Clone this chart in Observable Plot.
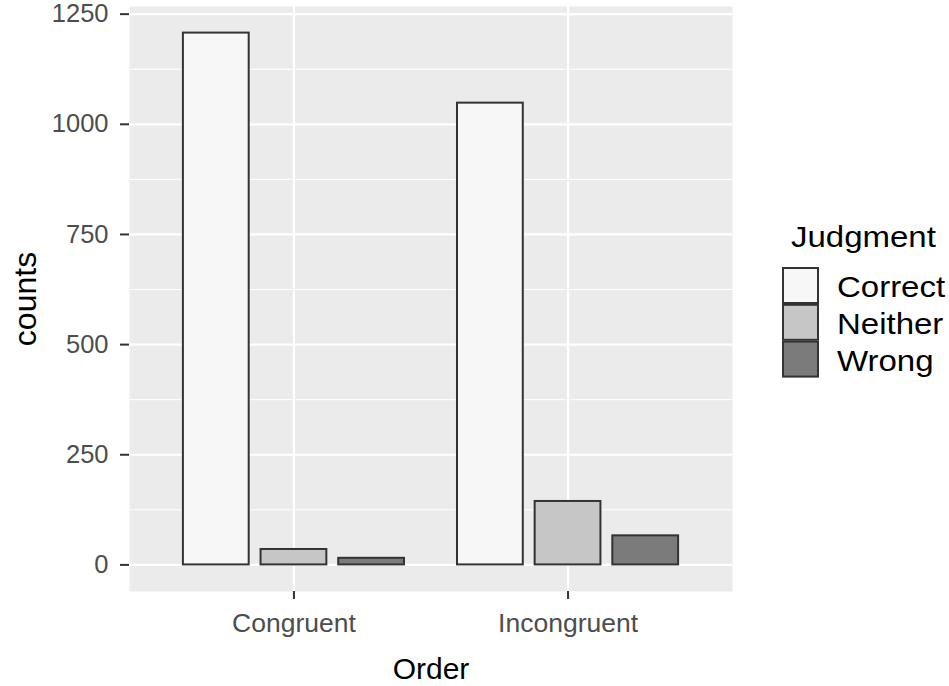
<!DOCTYPE html>
<html><head><meta charset="utf-8">
<script src="https://cdn.jsdelivr.net/npm/d3@7"></script>
<script src="https://cdn.jsdelivr.net/npm/@observablehq/plot@0.6"></script>
<style>
body{margin:0;background:#fff;}
#chart{position:relative;width:949px;height:686px;font-family:"Liberation Sans",Arial,sans-serif;}
#chart svg{position:absolute;left:0;top:0;}
</style>
</head><body><div id="chart"></div>
<script>
const orders = ["Congruent", "Incongruent"];
const judgments = ["Correct", "Neither", "Wrong"];
const congruentCounts = [1207, 35, 15];
const incongruentCounts = [1048, 144, 66];
const fillColors = ["#f7f7f7", "#c6c6c6", "#7b7b7b"];
const yTicks = [0, 250, 500, 750, 1000, 1250];
const yMinorTicks = [125, 375, 625, 875, 1125];

const data = [];
orders.forEach((o, i) => {
  const vals = i === 0 ? congruentCounts : incongruentCounts;
  judgments.forEach((j, k) => data.push({order: o, oi: i + 1, judgment: j, ji: k, count: vals[k]}));
});

const dodge = 0.85 / 3;
const barW = 0.24;
const maxC = d3.max(data, d => d.count);
const pad = maxC * 0.05;
const font = '"Liberation Sans", Arial, sans-serif';

const plot = Plot.plot({
  width: 760, height: 686,
  marginLeft: 129, marginRight: 28, marginTop: 6, marginBottom: 95,
  style: {fontFamily: font, fontSize: "25px", color: "#4d4d4d", background: "transparent"},
  x: {domain: [0.4, 2.6]},
  y: {domain: [-pad, maxC + pad]},
  color: {domain: judgments, range: fillColors},
  marks: [
    Plot.frame({fill: "#ebebeb", stroke: null}),
    Plot.ruleY(yMinorTicks, {stroke: "white", strokeWidth: 1}),
    Plot.ruleY(yTicks, {stroke: "white", strokeWidth: 2.2}),
    Plot.ruleX([1, 2], {stroke: "white", strokeWidth: 2.2}),
    Plot.rect(data, {
      x1: d => d.oi + (d.ji - 1) * dodge - barW / 2,
      x2: d => d.oi + (d.ji - 1) * dodge + barW / 2,
      y1: 0, y2: "count",
      fill: "judgment", stroke: "#333333", strokeWidth: 2
    }),
    Plot.axisX({ticks: [1, 2], tickFormat: i => orders[i - 1], tickSize: 8, tickPadding: 14,
      stroke: "#333333", strokeWidth: 2, fill: "#4d4d4d", fontSize: 26.5, label: null}),
    Plot.axisY({ticks: yTicks, tickFormat: d => String(d), tickSize: 9, tickPadding: 12,
      stroke: "#333333", strokeWidth: 2, fill: "#4d4d4d", fontSize: 25.5, label: null}),
    Plot.text(["counts"], {frameAnchor: "left", dx: -104, rotate: -90, textAnchor: "middle",
      lineAnchor: "middle", fontSize: 32, fill: "black"}),
    Plot.text(["Order"], {frameAnchor: "bottom", dy: 78, textAnchor: "middle",
      lineAnchor: "middle", fontSize: 30, fill: "black"})
  ]
});
document.getElementById("chart").appendChild(plot);

// Legend
const leg = d3.select("#chart").append("svg")
  .attr("width", 949).attr("height", 686)
  .style("font-family", font).style("pointer-events", "none");
leg.append("text")
  .attr("transform", "translate(791,247) scale(1.1,1)")
  .attr("font-size", 30).attr("fill", "black").text("Judgment");
const items = leg.selectAll("g.item").data(judgments).join("g")
  .attr("class", "item")
  .attr("transform", (d, i) => `translate(783,${268 + i * 36.8})`);
items.append("rect")
  .attr("width", 35).attr("height", 35)
  .attr("fill", (d, i) => fillColors[i])
  .attr("stroke", "#333333").attr("stroke-width", 2);
items.append("text")
  .attr("transform", "translate(54,29) scale(1.1,1)")
  .attr("font-size", 30).attr("fill", "black").text(d => d);
</script>
</body></html>
